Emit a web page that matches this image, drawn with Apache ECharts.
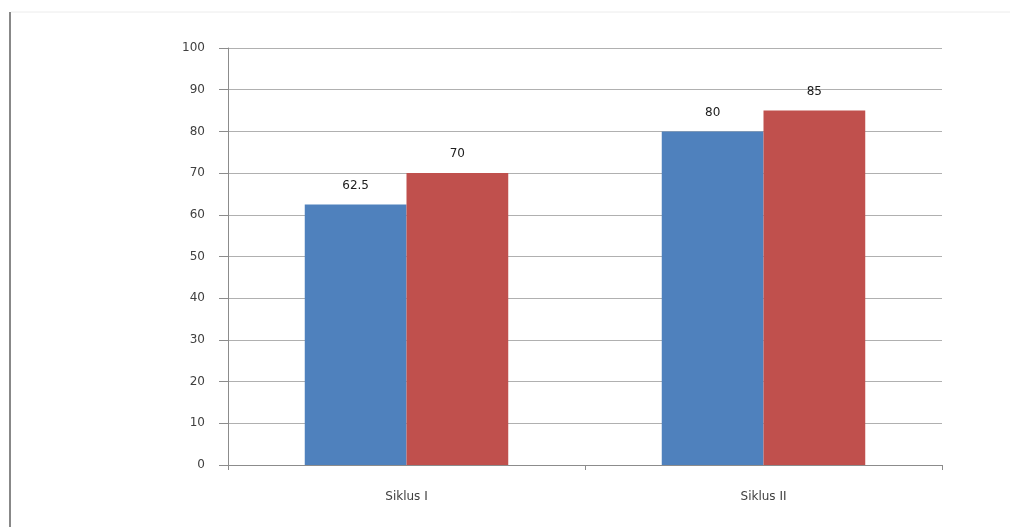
<!DOCTYPE html>
<html>
<head>
<meta charset="utf-8">
<script src="https://cdn.jsdelivr.net/npm/echarts@6/dist/echarts.min.js"></script>
<style>html,body{margin:0;padding:0;background:#fff;}#c{width:1010px;height:527px;}</style>
</head>
<body>
<div id="c"></div>
<script>
const categories = ['Siklus I', 'Siklus II'];
const seriesA = [62.5, 80];
const seriesB = [70, 85];
const yMin = 0, yMax = 100, yInterval = 10;

const chart = echarts.init(document.getElementById('c'));
const labelStyle = {
  show: true, position: 'top', distance: 13,
  color: '#202020', fontFamily: 'DejaVu Sans', fontSize: 12
};
chart.setOption({
  animation: false,
  backgroundColor: '#fff',
  grid: { left: 228, right: 68, top: 48, bottom: 62 },
  xAxis: {
    type: 'category', data: categories,
    axisLine: { lineStyle: { color: '#8c8c8c', width: 1 } },
    axisTick: { show: true, length: 5, lineStyle: { color: '#8c8c8c' } },
    axisLabel: { color: '#404040', fontFamily: 'DejaVu Sans', fontSize: 12, margin: 26 }
  },
  yAxis: {
    type: 'value', min: yMin, max: yMax, interval: yInterval,
    axisLine: { show: true, lineStyle: { color: '#8c8c8c', width: 1 } },
    axisTick: { show: true, inside: false, length: 9, lineStyle: { color: '#8c8c8c' } },
    axisLabel: { color: '#404040', fontFamily: 'DejaVu Sans', fontSize: 12, margin: 23 },
    splitLine: { lineStyle: { color: '#b0b0b0', width: 1 } }
  },
  graphic: [
    { type: 'line', shape: { x1: 10, y1: 12, x2: 10, y2: 527 }, style: { stroke: '#888', lineWidth: 2 } },
    { type: 'line', shape: { x1: 11, y1: 12, x2: 1010, y2: 12 }, style: { stroke: '#ececec', lineWidth: 1 } }
  ],
  series: [
    { type: 'bar', data: seriesA, barGap: '0%', barCategoryGap: '43%',
      itemStyle: { color: '#4f81bd' }, label: labelStyle },
    { type: 'bar', data: seriesB, barGap: '0%', barCategoryGap: '43%',
      itemStyle: { color: '#c0504d' }, label: labelStyle }
  ]
});
</script>
</body>
</html>
